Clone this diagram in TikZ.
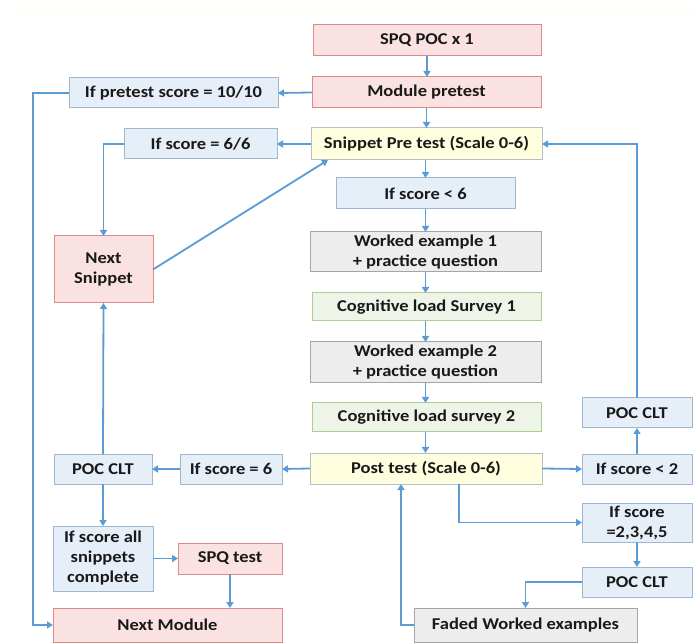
\documentclass[tikz,border=0pt]{standalone}
\usepackage{fontspec}
\setmainfont{Carlito}[FakeStretch=1.12]
\usetikzlibrary{arrows.meta}
\definecolor{pinkF}{HTML}{FBE2E2}
\definecolor{pinkD}{HTML}{DC8B8B}
\definecolor{blueF}{HTML}{E6EEF8}
\definecolor{blueD}{HTML}{9FB6CF}
\definecolor{yelF}{HTML}{FFFFE0}
\definecolor{yelD}{HTML}{B4C0C8}
\definecolor{grayF}{HTML}{EDEDED}
\definecolor{grayD}{HTML}{A5A5A5}
\definecolor{greenF}{HTML}{EEF5E8}
\definecolor{greenD}{HTML}{A9CF91}
\definecolor{arrC}{HTML}{5B9BD5}
\definecolor{topline}{HTML}{FFFFEC}
\tikzset{
  box/.style={draw, line width=1pt, align=center, inner sep=0pt, outer sep=0pt,
    font=\fontsize{16.5}{20}\selectfont\bfseries, text=black!90},
  pinkbox/.style={box, fill=pinkF, draw=pinkD},
  bluebox/.style={box, fill=blueF, draw=blueD},
  yelbox/.style={box, fill=yelF, draw=yelD},
  graybox/.style={box, fill=grayF, draw=grayD},
  greenbox/.style={box, fill=greenF, draw=greenD},
  arr/.style={draw=arrC, line width=1.8pt, -{Triangle[length=6pt,width=7pt]}},
  sz/.style 2 args={minimum width=#1pt, minimum height=#2pt}
}
\begin{document}
\begin{tikzpicture}[x=1pt,y=-1pt]
\useasboundingbox (0,0) rectangle (694,644);
\draw[topline, line width=1.5pt] (14,11) -- (694,11);
% nodes
\node[pinkbox, sz={228}{31}] (spq) at (427,40.5) {SPQ POC x 1};
\node[pinkbox, sz={229}{31}] (mod) at (426.5,92.5) {Module pretest};
\node[bluebox, sz={209}{30}] (ifpre) at (173.5,93) {If pretest score = 10/10};
\node[yelbox, sz={231}{32}] (snip) at (426.5,144) {Snippet Pre test (Scale 0-6)};
\node[bluebox, sz={153}{30}] (if66) at (200.5,144) {If score = 6/6};
\node[bluebox, sz={179}{31}] (iflt6) at (425.5,193.5) {If score < 6};
\node[graybox, sz={231}{40}] (we1) at (425.5,252) {Worked example 1\\+ practice question};
\node[greenbox, sz={229}{28}] (cls1) at (426.5,307) {Cognitive load Survey 1};
\node[graybox, sz={231}{41}] (we2) at (425.5,362.5) {Worked example 2\\+ practice question};
\node[greenbox, sz={229}{29}] (cls2) at (426.5,417.5) {Cognitive load survey 2};
\node[yelbox, sz={232}{31}] (post) at (426,468.5) {Post test (Scale 0-6)};
\node[bluebox, sz={102}{30}] (if6) at (231,469) {If score = 6};
\node[bluebox, sz={98}{30}] (poc1) at (103,469) {POC CLT};
\node[bluebox, sz={100}{65}] (ifall) at (103,558.5) {If score all\\snippets\\complete};
\node[pinkbox, sz={104}{31}] (spqt) at (230,558.5) {SPQ test};
\node[pinkbox, sz={229}{34}] (nmod) at (167.5,625) {Next Module};
\node[pinkbox, sz={99}{67}] (nsnip) at (103.5,269.5) {Next\\Snippet};
\node[bluebox, sz={110}{30}] (poc2) at (637,413) {POC CLT};
\node[bluebox, sz={110}{30}] (iflt2) at (637,469) {If score < 2};
\node[bluebox, sz={110}{39}] (if2345) at (637,522.5) {If score\\=2,3,4,5};
\node[bluebox, sz={110}{30}] (poc3) at (637,582) {POC CLT};
\node[graybox, sz={223}{34}] (faded) at (525.5,625) {Faded Worked examples};
% connectors
\draw[arr] (spq.south) -- (spq.south |- mod.north);
\draw[arr] (mod.west) -- (ifpre.east);
\draw[arr] (ifpre.west) -- ++(-36,0) |- (nmod.west);
\draw[arr] (mod.south) -- (mod.south |- snip.north);
\draw[arr] (snip.west) -- (if66.east);
\draw[arr] (if66.west) -| (nsnip.north);
\draw[arr] (nsnip.east) -- ([xshift=17pt]snip.south west);
\draw[arr] (iflt6.north |- snip.south) -- (iflt6.north);
\draw[arr] (iflt6.south) -- (iflt6.south |- we1.north);
\draw[arr] (we1.south) -- (we1.south |- cls1.north);
\draw[arr] (we1.south |- cls1.south) -- (we1.south |- we2.north);
\draw[arr] (we2.south) -- (we2.south |- cls2.north);
\draw[arr] (we2.south |- cls2.south) -- (we2.south |- post.north);
\draw[arr] (post.west) -- (if6.east);
\draw[arr] (if6.west) -- (poc1.east);
\draw[arr] (poc1.north) -- (nsnip.south);
\draw[arr] (poc1.south) -- (ifall.north);
\draw[arr] (ifall.east |- spqt.west) -- (spqt.west);
\draw[arr] (spqt.south) -- (spqt.south |- nmod.north);
\draw[arr] (post.east) -- (iflt2.west);
\draw[arr] (iflt2.north) -- (poc2.south);
\draw[arr] (poc2.north) |- (snip.east);
\draw[arr] ([xshift=33pt]post.south) |- (if2345.west);
\draw[arr] (if2345.south) -- (poc3.north);
\draw[arr] (poc3.west) -| (faded.north);
\draw[arr] (faded.west) -| ([xshift=-25pt]post.south);
\end{tikzpicture}
\end{document}
